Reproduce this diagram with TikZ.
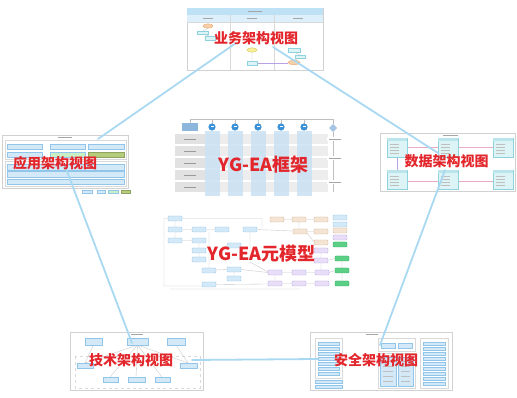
\documentclass[tikz,border=0pt]{standalone}
\usepackage{fontspec}
\newfontfamily\cjk{Noto Sans CJK SC}
\definecolor{labred}{HTML}{E3262B}
\definecolor{pentc}{HTML}{A9D9F2}
\definecolor{lbf}{HTML}{D3E9F8}
\definecolor{lbd}{HTML}{92C5EA}
\definecolor{hdr}{HTML}{BFE1F6}
\definecolor{hdrb}{HTML}{DDEFFB}
\definecolor{cyf}{HTML}{DDF4F6}
\definecolor{cyd}{HTML}{8ED2DD}
\definecolor{bgf}{HTML}{F4E4D4}
\definecolor{bgd}{HTML}{D8B697}
\definecolor{puf}{HTML}{E8DEF7}
\definecolor{pud}{HTML}{B7A3E2}
\definecolor{grf}{HTML}{5CCF86}
\definecolor{grd}{HTML}{2FAE60}
\definecolor{olf}{HTML}{B5CC7A}
\definecolor{lgf}{HTML}{C9F0C4}
\definecolor{fwrow}{HTML}{EDEDED}
\definecolor{fwcell}{HTML}{E2E2E2}
\definecolor{fwcol}{HTML}{C9E1F4}
\definecolor{fwic}{HTML}{3B92D8}
\definecolor{fwhd}{HTML}{8DB6DD}
\definecolor{orf}{HTML}{F6CFA8}
\definecolor{ord}{HTML}{E8A36A}
\definecolor{yef}{HTML}{F7EF9A}
\definecolor{yed}{HTML}{D6C84E}
\definecolor{pkl}{HTML}{E9A9C9}
\begin{document}
\begin{tikzpicture}[x=1pt,y=-1pt,
  thumb/.style={draw=black!18,fill=white,line width=0.5pt},
  grp/.style={draw=black!15,line width=0.4pt},
  lb/.style={draw=lbd,fill=lbf,line width=0.35pt},
  cy/.style={draw=cyd,fill=cyf,line width=0.35pt},
  bg/.style={draw=bgd,fill=bgf,line width=0.35pt,rounded corners=0.8pt},
  pu/.style={draw=pud,fill=puf,line width=0.35pt,rounded corners=0.8pt},
  gr/.style={draw=grd,fill=grf,line width=0.35pt,rounded corners=0.8pt},
  mb/.style={draw=lbd,fill=lbf,line width=0.35pt,rounded corners=0.8pt},
  tx/.style={draw=black!35,line width=0.5pt},
  cn/.style={draw=black!22,line width=0.35pt},
  pent/.style={draw=pentc,line width=1.8pt,line cap=round},
  view/.style={text=labred,inner sep=0pt,font=\cjk\bfseries\fontsize{14}{14}\selectfont},
  big/.style={text=labred,inner sep=0pt,font=\cjk\bfseries\fontsize{18}{18}\selectfont},
]
\path[use as bounding box, fill=white] (0,0) rectangle (517,398);

% ---------------- business thumbnail
\draw[thumb] (187,8) rectangle (323,70);
\fill[hdr] (187,8) rectangle (323,15);
\fill[hdrb] (187,15) rectangle (323,22);
\draw[black!15,line width=0.4pt] (230,15)--(230,70) (274,15)--(274,70) (187,22)--(323,22);
\draw[tx] (248,11.5)--(262,11.5) (203,18.5)--(213,18.5) (247,18.5)--(257,18.5) (293,18.5)--(303,18.5);
\draw[cn] (208,28)--(203,31) (203,34)--(209,36) (252,52)--(252,61) (294,52)--(300,55) (300,58)--(294,60);
\draw[draw=pud,line width=0.5pt] (257,63)--(288,63);
\draw[draw=ord,fill=orf,line width=0.35pt] (208,26) ellipse (5 and 2.2);
\draw[cy] (197,31) rectangle (208,34);
\draw[cy] (205,36) rectangle (215,40);
\draw[draw=yed,fill=yef,line width=0.35pt] (252,50) ellipse (5 and 2.2);
\draw[cy] (247,61) rectangle (257,65);
\draw[cy] (288,48) rectangle (300,52);
\draw[cy] (295,55) rectangle (305,58);
\draw[draw=ord,fill=orf,line width=0.35pt] (294,62.5) ellipse (6 and 2.2);

% ---------------- application thumbnail
\draw[thumb] (2,135) rectangle (128,188);
\draw[tx] (58,137.5)--(72,137.5);
\draw[grp] (5,140) rectangle (126,159);
\draw[lb] (7,144) rectangle (42,149);
\draw[lb] (7,152) rectangle (42,157);
\draw[lb] (50,144) rectangle (85,149);
\draw[draw=lbd,fill=lgf,line width=0.35pt] (50,152) rectangle (85,157);
\draw[lb] (88,144) rectangle (124,149);
\draw[draw=olf!80!black,fill=olf,line width=0.35pt] (88,152) rectangle (124,157);
\draw[grp] (5,161) rectangle (126,186);
\draw[lb] (7,164) rectangle (124,170);
\draw[lb] (7,171) rectangle (124,177);
\draw[lb] (7,179) rectangle (124,184);
\draw[lb] (82,190) rectangle (92,193);
\draw[lb] (97,190) rectangle (105,193);
\draw[draw=lbd,fill=lgf,line width=0.35pt] (108,190) rectangle (118,193);
\draw[draw=olf!80!black,fill=olf,line width=0.35pt] (121,190) rectangle (130,193);

% ---------------- data thumbnail
\draw[thumb] (380,133) rectangle (515,191);
\draw[tx] (443,135)--(458,135);
\draw[draw=pkl,line width=0.5pt] (407,147)--(438,147) (457,147)--(493,147) (407,181)--(438,181) (457,181)--(493,181);
\draw[draw=pud,line width=0.5pt] (397,157)--(397,170);
\foreach \x/\y in {387/138,438/138,493/138,387/170,438/170,493/170} {
  \draw[cy] (\x,\y) rectangle (\x+20,\y+19);
  \fill[cyd!60] (\x,\y) rectangle (\x+20,\y+3);
  \foreach \k in {6,9,12,15} \draw[tx,draw=black!25] (\x+3,\y+\k)--(\x+12,\y+\k);
}

% ---------------- technology thumbnail
\draw[thumb] (70,332) rectangle (203,390);
\draw[tx] (131,334)--(143,334);
\draw[grp,dashed] (75,356) rectangle (200,388);
\draw[cn] (137.5,345)--(85,363) (137.5,345)--(110,377) (137.5,345)--(136,377) (137.5,345)--(162,377) (137.5,345)--(188,363)
          (93.5,345)--(85,363) (176,345)--(188,363);
\draw[lb] (85,338) rectangle (102,345);
\draw[lb] (127,338) rectangle (148,345);
\draw[lb] (167,338) rectangle (185,345);
\draw[lb] (77,363) rectangle (93,368);
\draw[lb] (180,363) rectangle (197,368);
\draw[lb] (103,377) rectangle (118,382);
\draw[lb] (128,377) rectangle (145,382);
\draw[lb] (155,377) rectangle (170,382);

% ---------------- security thumbnail
\draw[thumb] (310,332) rectangle (452,390);
\draw[tx] (366,334)--(378,334);
\draw[grp] (315,338) rectangle (342,378);
\foreach \y in {342,347,...,372} \draw[lb] (318,\y) rectangle (339,\y+3);
\draw[lb] (315,380) rectangle (342,383);
\draw[lb] (315,385) rectangle (342,388);
\draw[grp] (378,338) rectangle (415,351);
\draw[lb] (381,343) rectangle (395,348);
\draw[lb] (398,343) rectangle (412,348);
\draw[grp] (378,353) rectangle (415,388);
\draw[lb] (380,357) rectangle (396,386);
\draw[lb] (398,357) rectangle (413,386);
\foreach \y in {361,366,...,382} \draw[tx,draw=black!25] (383,\y)--(393,\y) (401,\y)--(410,\y);
\draw[grp] (420,338) rectangle (448,388);
\foreach \y in {342,347,...,382} \draw[lb] (423,\y) rectangle (445,\y+3);

% ---------------- framework
\draw[cn,draw=black!25] (190,123)--(190,119)--(333,119)--(333,124);
\foreach \c in {212,235,258,281,304} \draw[cn,draw=black!25] (\c,119)--(\c,124);
\foreach \y in {134,146,158,170,182} {
  \fill[fwrow] (175,\y) rectangle (328,\y+10);
  \fill[fwcell] (175,\y) rectangle (205,\y+10);
  \draw[tx,draw=black!40] (184,\y+5)--(196,\y+5);
}
\foreach \c in {212,235,258,281,304} {
  \fill[fwcol,opacity=0.85] (\c-7.5,131) rectangle (\c+7.5,196);
  \fill[fwic] (\c,127) circle (3.6);
  \fill[white] (\c-1.5,126.5) rectangle (\c+1.5,127.5);
}
\fill[fwhd] (182,123) rectangle (198,131);
\draw[cn,draw=black!25] (333,132)--(333,192);
\fill[fwhd!80] (333,124)--(337,128)--(333,132)--(329,128)--cycle;
\foreach \y in {139,158,182} {
  \fill[white] (327,\y-2) rectangle (343,\y+2);
  \draw[tx] (329,\y)--(341,\y);
}

% ---------------- meta model
\draw[cn] (175,221)--(175,227) (175,232)--(175,238) (182,229.5)--(192,229.5) (206,229.5)--(215,229.5)
          (182,240.5)--(192,240.5) (199,243)--(199,248) (199,253)--(199,257)
          (168,218.5)--(164,218.5)--(164,286)--(202,286) (182,218.5)--(262,218.5)--(262,228)
          (257,229.5)--(293,231) (209,232)--(209,268) (250,232)--(250,262)--(268,272)
          (216,270)--(227,269.5) (216,284.5)--(268,284) (241,269.5)--(268,272.5)
          (282,219.5)--(292,219.5) (306,219.5)--(314,219.5) (307,231.5)--(314,231.5)
          (299,222)--(299,229) (307,233)--(314,242)
          (282,272.5)--(292,272.5) (306,272.5)--(315,272.5) (282,283.5)--(292,283.5) (306,283.5)--(315,283.5)
          (275,275)--(275,281) (321,253)--(321,258) (321,263)--(321,270)
          (342,261)--(342,268) (342,273)--(342,281) (329,260)--(335,258.5) (329,272.5)--(335,270.5)
          (170,289)--(300,289) (234,272)--(234,276);
\foreach \x/\y in {168/216,168/227,192/227,215/227,243/227,168/238,192/238,192/248,192/257,227/243,202/268,227/267,227/276,202/282,333/215,333/222}
  \draw[mb] (\x,\y) rectangle ++(14,5);
\foreach \x/\y in {270/217,292/217,314/217,293/229,314/229,314/240,333/228}
  \draw[bg] (\x,\y) rectangle ++(14,5);
\foreach \x/\y in {314/248,314/258,268/270,292/270,315/270,268/281,292/281,315/281,333/235}
  \draw[pu] (\x,\y) rectangle ++(14,5);
\foreach \x/\y in {333/242,335/256,335/268,335/281}
  \draw[gr] (\x,\y) rectangle ++(14,5);

% ---------------- pentagon connectors
\coordinate (bA) at (236,43);
\coordinate (bB) at (273,47);
\coordinate (aA) at (98,139);
\coordinate (aB) at (65,166);
\coordinate (dA) at (438,153);
\coordinate (dB) at (445,170);
\coordinate (tA) at (132,343);
\coordinate (tB) at (192,360);
\coordinate (sA) at (380,345);
\coordinate (sB) at (318,359);
\draw[pent] (bA)--(aA);
\draw[pent] (aB)--(tA);
\draw[pent] (tB)--(sB);
\draw[pent] (sA)--(dB);
\draw[pent] (dA)--(bB);

% ---------------- labels
\node[view] (lbus) at (256,38.5) {业务架构视图};
\node[view] (lapp) at (55,163.5) {应用架构视图};
\node[view] (ldat) at (446.5,161.5) {数据架构视图};
\node[view] (ltec) at (131,360) {技术架构视图};
\node[view] (lsec) at (376,360) {安全架构视图};
\node[big] (lfw) at (263.5,165) {YG-EA框架};
\node[big] (lmm) at (261.5,254) {YG-EA元模型};
\end{tikzpicture}
\end{document}
